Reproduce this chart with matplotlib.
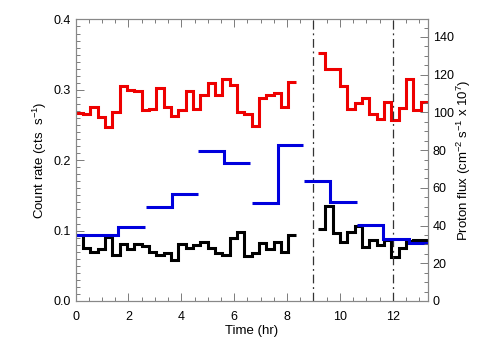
import numpy as np
import matplotlib
matplotlib.use('Agg')
import matplotlib.pyplot as plt
from matplotlib.ticker import MultipleLocator

plt.rcParams['font.family'] = ['Liberation Sans', 'DejaVu Sans']
plt.rcParams['mathtext.fontset'] = 'custom'
plt.rcParams['mathtext.rm'] = 'Liberation Sans'
plt.rcParams['mathtext.it'] = 'Liberation Sans:italic'

# 1000 s bins, expressed in hours
BIN_HR = 1000.0 / 3600.0

# count rate (cts/s), first block starts at bin 0, second block at bin 33
red_start1 = 0
red_rate1 = [0.267, 0.266, 0.276, 0.262, 0.247, 0.268, 0.306, 0.300, 0.298, 0.271,
             0.273, 0.302, 0.276, 0.263, 0.272, 0.299, 0.273, 0.293, 0.309, 0.293,
             0.315, 0.307, 0.269, 0.265, 0.248, 0.288, 0.292, 0.296, 0.275, 0.311]
red_start2 = 33
red_rate2 = [0.352, 0.330, 0.329, 0.306, 0.273, 0.281, 0.289, 0.266, 0.259, 0.283,
             0.257, 0.274, 0.315, 0.271, 0.283]

black_start1 = 0
black_rate1 = [0.094, 0.075, 0.069, 0.0735, 0.091, 0.065, 0.081, 0.074, 0.081, 0.078,
               0.069, 0.066, 0.068, 0.058, 0.081, 0.075, 0.080, 0.084, 0.075, 0.068,
               0.066, 0.089, 0.098, 0.0645, 0.068, 0.083, 0.074, 0.084, 0.069, 0.094]
black_start2 = 33
black_rate2 = [0.102, 0.135, 0.096, 0.0835, 0.098, 0.106, 0.077, 0.087, 0.079, 0.087,
               0.062, 0.075, 0.085, 0.087, 0.086]

# proton flux (cm^-2 s^-1 x 1e7), segments of time edges (hr) and values
proton_edges = [[0.0, 1.62, 2.63],
                [2.66, 3.64, 4.62],
                [4.64, 5.62, 6.59],
                [6.66, 7.64, 8.61],
                [8.64, 9.64, 10.63],
                [10.63, 11.63, 12.62, 13.6]]
proton_flux = [[35.1, 39.0],
               [49.8, 56.8],
               [79.4, 72.9],
               [52.0, 82.6],
               [63.5, 52.3],
               [40.1, 33.0, 30.7]]

event_times = [9.0, 12.0]


def edges_for(start, values):
    return (start + np.arange(len(values) + 1)) * BIN_HR


fig = plt.figure(figsize=(5.04, 3.6), dpi=100)
ax = fig.add_axes([0.150, 0.164, 0.699, 0.782])
ax2 = ax.twinx()

lw = 2.2
ax.stairs(red_rate1, edges_for(red_start1, red_rate1), baseline=None, color='#ee0000', lw=lw)
ax.stairs(red_rate2, edges_for(red_start2, red_rate2), baseline=None, color='#ee0000', lw=lw)
ax.stairs(black_rate1, edges_for(black_start1, black_rate1), baseline=None, color='black', lw=lw)
ax.stairs(black_rate2, edges_for(black_start2, black_rate2), baseline=None, color='black', lw=lw)

for e, v in zip(proton_edges, proton_flux):
    ax2.stairs(v, e, baseline=None, color='#0000dd', lw=lw)

for t in event_times:
    ax.axvline(t, color='#333333', lw=0.9, ls=(0, (7, 3, 1.5, 3)))

ax.set_xlim(0, 13.33)
ax.set_ylim(0, 0.4)
ax2.set_ylim(0, 149.3)

ax.xaxis.set_major_locator(MultipleLocator(2))
ax.xaxis.set_minor_locator(MultipleLocator(0.5))
ax.yaxis.set_major_locator(MultipleLocator(0.1))
ax.yaxis.set_minor_locator(MultipleLocator(0.01))
ax2.yaxis.set_major_locator(MultipleLocator(20))
ax2.yaxis.set_minor_locator(MultipleLocator(5))
ax.yaxis.set_major_formatter(plt.FormatStrFormatter('%.1f'))

for a in (ax, ax2):
    a.tick_params(which='both', direction='in', colors='#666666', labelcolor='black',
                  labelsize=9, width=0.6)
    a.tick_params(which='major', length=6)
    a.tick_params(which='minor', length=3)
    for s in a.spines.values():
        s.set_color('#888888')
        s.set_linewidth(0.8)
ax.tick_params(axis='x', which='both', top=True)
ax.tick_params(axis='y', which='both', right=False)
ax.tick_params(axis='x', pad=7)

ax.set_xlabel('Time (hr)', fontsize=9.5, labelpad=2)
ax.set_ylabel('Count rate (cts  s$^{-1}$)', fontsize=9.5, labelpad=3)
ax2.set_ylabel('Proton flux (cm$^{-2}$ s$^{-1}$ x 10$^7$)', fontsize=9.5, labelpad=1)

fig.savefig('out.png', dpi=100)
